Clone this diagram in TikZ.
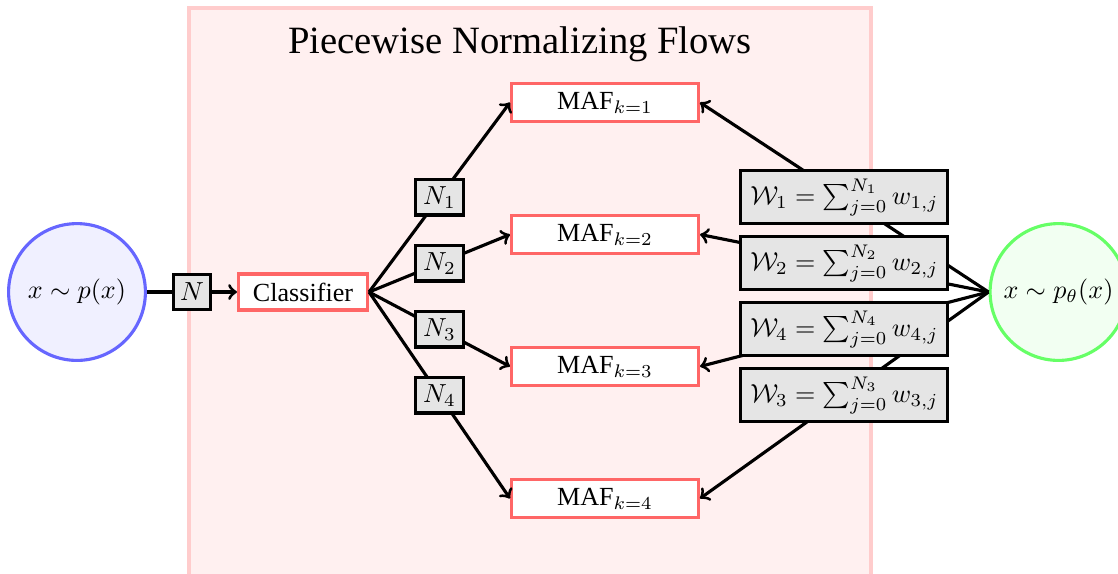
\documentclass[tikz,border=0pt]{standalone}
\usepackage{amsmath}
\usepackage{amssymb}
\usepackage{fontspec}
\setmainfont{Liberation Serif}
\usepackage{tikz}
\usetikzlibrary{arrows, positioning, shapes.geometric}
\usepackage{xcolor}

\begin{document}
\begin{tikzpicture}[x=0.383pt,y=-0.383pt,node distance=50.55pt,very thick,>=to]
  \tikzstyle{density}=[circle,line width=1.2pt,minimum size=52.4pt,inner sep=0pt]
  \tikzstyle{block}=[rectangle,draw=red!60,fill=white,line width=1.2pt]
  \tikzstyle{count}=[rectangle,draw=black,fill=black!10,line width=1.2pt,inner sep=2.5pt,minimum height=13.6pt]
  \tikzstyle{weight}=[count,minimum width=79.2pt,minimum height=20.2pt]

  \useasboundingbox (0,0) rectangle (1118,573);
  \filldraw[fill=red!6,draw=red!20,line width=1.2pt] (189,8) rectangle (871,600);
  \node (title) at (520,44) {\fontsize{14.8}{18}\selectfont Piecewise Normalizing Flows};

  \node[density,draw=blue!60,fill=blue!6]       (p_x)   at (77,292)     {$x \sim p(x)$};
  \node[block,minimum width=49.4pt,minimum height=13pt] (cls) at (303,292) {Classifier};
  \node[block,minimum width=71.6pt,minimum height=14pt] (maf_1) at (605,102.5) {$\mathrm{MAF}_{k=1}$};
  \node[block,minimum width=71.6pt,minimum height=14pt] (maf_2) [below of=maf_1] {$\mathrm{MAF}_{k=2}$};
  \node[block,minimum width=71.6pt,minimum height=14pt] (maf_3) [below of=maf_2] {$\mathrm{MAF}_{k=3}$};
  \node[block,minimum width=71.6pt,minimum height=14pt] (maf_4) [below of=maf_3] {$\mathrm{MAF}_{k=4}$};
  \node[density,draw=green!60,fill=green!5]     (p_t)   at (1058.5,292) {$x \sim p_\theta(x)$};

  % connectors first, the boxes sit on top of them
  \path[->]
  (p_x.east)  edge (cls.west)
  (cls.east)  edge (maf_1.west)
  (cls.east)  edge (maf_2.west)
  (cls.east)  edge (maf_3.west)
  (cls.east)  edge (maf_4.west)
  (p_t.west)  edge (maf_1.east)
  (p_t.west)  edge (maf_2.east)
  (p_t.west)  edge (maf_3.east)
  (p_t.west)  edge (maf_4.east)
  ;

  \path (p_x.east) -- node[count] (n)   {$N$}   (cls.west);
  \path (cls.east) -- node[count,minimum width=18.7pt] (n_1) {$N_1$} (maf_1.west);
  \path (cls.east) -- node[count,minimum width=18.7pt] (n_2) {$N_2$} (maf_2.west);
  \path (cls.east) -- node[count,minimum width=18.7pt] (n_3) {$N_3$} (maf_3.west);
  \path (cls.east) -- node[count,minimum width=18.7pt] (n_4) {$N_4$} (maf_4.west);

  \path (p_t.west) -- node[weight] (w_1) {$\mathcal{W}_1 = \sum_{j=0}^{N_1} w_{1,j}$} (maf_1.east);
  \path (p_t.west) -- node[weight] (w_2) {$\mathcal{W}_2 = \sum_{j=0}^{N_2} w_{2,j}$} (maf_2.east);
  \path (p_t.west) -- node[weight] (w_4) {$\mathcal{W}_4 = \sum_{j=0}^{N_4} w_{4,j}$} (maf_3.east);
  \path (p_t.west) -- node[weight] (w_3) {$\mathcal{W}_3 = \sum_{j=0}^{N_3} w_{3,j}$} (maf_4.east);
\end{tikzpicture}
\end{document}
